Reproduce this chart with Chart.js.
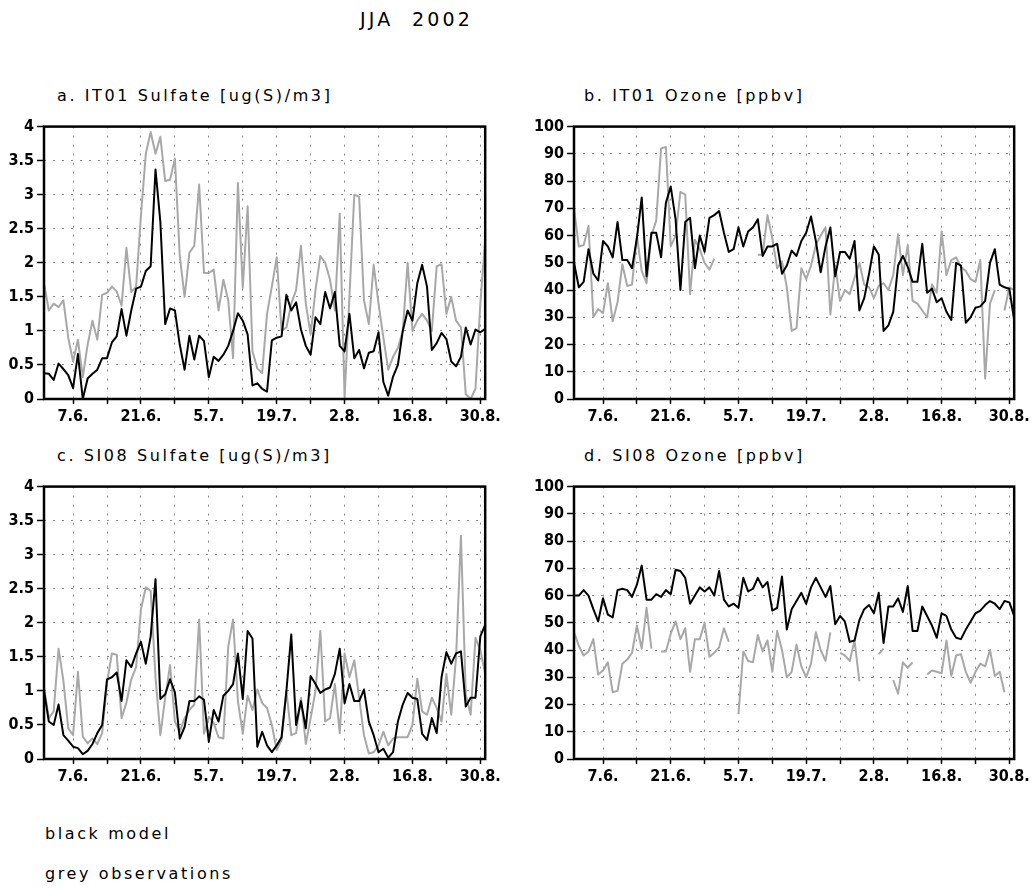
<!DOCTYPE html>
<html>
<head>
<meta charset="utf-8">
<title>JJA 2002</title>
<script src="https://cdn.jsdelivr.net/npm/chart.js@4.4.1/dist/chart.umd.min.js"></script>
<style>
  body { margin: 0; background: #fff; width: 1034px; height: 889px; position: relative; overflow: hidden; }
  canvas { position: absolute; }
  .txt {
    position: absolute; white-space: nowrap; line-height: 1; color: #000;
    font-family: "DejaVu Sans", sans-serif; font-size: 16px; letter-spacing: 2.6px;
  }
</style>
</head>
<body>
<div class="txt" style="left:314px;top:10px;width:205px;text-align:center;font-size:19px;letter-spacing:3.2px">JJA&nbsp;&nbsp;2002</div>

<div class="txt" style="left:57px;top:88px">a. IT01 Sulfate [ug(S)/m3]</div>
<div class="txt" style="left:584px;top:88px">b. IT01 Ozone [ppbv]</div>
<div class="txt" style="left:57px;top:448px">c. SI08 Sulfate [ug(S)/m3]</div>
<div class="txt" style="left:584px;top:448px">d. SI08 Ozone [ppbv]</div>

<canvas id="panelA" width="504" height="315" style="left:0;top:114px"></canvas>
<canvas id="panelB" width="503" height="315" style="left:530px;top:114px"></canvas>
<canvas id="panelC" width="504" height="315" style="left:0;top:474px"></canvas>
<canvas id="panelD" width="503" height="315" style="left:530px;top:474px"></canvas>

<div class="txt" style="left:45px;top:826px">black model</div>
<div class="txt" style="left:45px;top:866px">grey observations</div>

<script>
// daily values, index 0 = 1 June, index 91 = 31 August 2002
const tickDays = [6, 20, 34, 48, 62, 76, 90];
const tickLabels = ["7.6.", "21.6.", "5.7.", "19.7.", "2.8.", "16.8.", "30.8."];

// IT01 sulfate [ug(S)/m3]
const it01SulfModel = [
  0.38, 0.37, 0.28, 0.52, 0.44, 0.35, 0.16, 0.66, 0.0, 0.3,
  0.37, 0.43, 0.6, 0.6, 0.83, 0.92, 1.32, 0.93, 1.3, 1.62,
  1.65, 1.88, 1.95, 3.37, 2.6, 1.1, 1.33, 1.3, 0.8, 0.43,
  0.93, 0.58, 0.93, 0.85, 0.32, 0.62, 0.56, 0.65, 0.78, 1.0,
  1.26, 1.15, 0.95, 0.2, 0.23, 0.15, 0.11, 0.86, 0.9, 0.92,
  1.53, 1.3, 1.42, 1.02, 0.78, 0.65, 1.2, 1.1, 1.57, 1.33,
  1.57, 0.78, 0.7, 1.25, 0.6, 0.72, 0.45, 0.68, 0.7, 0.98,
  0.25, 0.05, 0.33, 0.5, 1.0, 1.3, 1.15, 1.7, 1.97, 1.65,
  0.72, 0.82, 0.97, 0.88, 0.55, 0.48, 0.62, 1.05, 0.8, 1.02,
  0.98, 1.03
];
const it01SulfObs = [
  1.7, 1.3, 1.4, 1.35, 1.45, 0.9, 0.55, 0.87, 0.32, 0.8,
  1.15, 0.87, 1.53, 1.56, 1.65, 1.58, 1.37, 2.22, 1.57, 1.65,
  2.7, 3.6, 3.92, 3.6, 3.85, 3.2, 3.22, 3.53, 2.1, 1.5,
  2.15, 2.25, 3.15, 1.85, 1.85, 1.9, 1.3, 1.75, 1.45, 0.6,
  3.17, 1.63, 2.83, 0.7, 0.45, 0.38, 1.25, 1.65, 2.08, 1.0,
  1.05, 1.4, 1.6, 2.25, 1.4, 0.95, 1.6, 2.1, 2.0, 1.75,
  1.3, 2.72, 0.02, 1.5, 3.0, 2.97, 1.45, 1.1, 1.97, 1.4,
  0.9, 0.43, 0.62, 0.75, 1.0, 2.0, 1.0, 1.15, 1.25, 1.15,
  1.0, 1.95, 1.98, 1.25, 1.5, 1.15, 1.05, 0.07, 0.0, 0.15,
  1.4, 2.35
];

// IT01 ozone [ppbv]
const it01O3Model = [
  50, 41, 43, 55, 46, 43.5, 58, 56, 52, 65,
  51, 51, 48, 59, 74, 45, 61, 61, 52, 72,
  78, 66, 40, 65, 66.5, 48, 60, 54, 66.5, 67.5,
  69, 61, 54, 55, 63, 56, 61.5, 63, 66, 52.5,
  56, 56, 57, 46, 49, 54.5, 52.5, 58, 61, 67,
  58, 46.5, 56, 63, 45, 54, 54, 51.5, 58, 32.5,
  37, 46, 56, 53, 25, 27, 32, 49, 52.5, 48.5,
  43, 43, 57, 39, 40.5, 35.5, 37, 32, 29, 50,
  49, 28, 30, 33.5, 34, 36, 50, 55, 42, 41,
  40.5, 29
];
const it01O3Obs = [
  70, 56, 56.5, 63.5, 30, 33, 31.5, 42.5, 28.5, 35.5,
  49.5, 41.5, 42, 60, 47, 42.5, 60, 65.5, 92, 92.5,
  56, 60, 76, 75, 38.5, 58.5, 55, 50, 47.5, 51.5,
  null, null, null, null, null, null, null, null, 53, 53,
  67.5, 59, 48, 50.5, 41, 25, 26, 48, 44, 49,
  56.5, 60, 63, 31, 49, 36, 40, 38.5, 44.5, 50,
  42, 41, 37, 41.5, 42.5, 40, 45.5, 60.5, 45.5, 56.5,
  36, 35, 32.5, 30, 42, 39, 61.5, 45.5, 51, 52,
  48.5, 47, 44, 43, 51, 7.5, 35, 40, null, 32.5,
  41, 40
];

// SI08 sulfate [ug(S)/m3]
const si08SulfModel = [
  1.0, 0.55, 0.5, 0.8, 0.35, 0.27, 0.18, 0.16, 0.07, 0.12,
  0.22, 0.38, 0.5, 1.17, 1.2, 1.27, 0.85, 1.45, 1.35, 1.55,
  1.72, 1.4, 1.8, 2.64, 0.88, 0.95, 1.17, 0.98, 0.3, 0.47,
  0.85, 0.85, 0.92, 0.87, 0.25, 0.72, 0.55, 0.93, 1.0, 1.1,
  1.55, 0.88, 1.88, 1.77, 0.18, 0.4, 0.2, 0.1, 0.2, 0.32,
  1.0, 1.83, 0.5, 0.85, 0.45, 1.22, 1.1, 0.97, 1.02, 1.05,
  1.25, 1.62, 0.82, 1.1, 0.85, 0.85, 1.02, 0.55, 0.35, 0.1,
  0.15, 0.02, 0.1, 0.55, 0.8, 0.97, 0.9, 0.88, 0.37, 0.28,
  0.6, 0.38, 1.2, 1.57, 1.4, 1.55, 1.58, 0.77, 0.9, 0.9,
  1.8, 1.97
];
const si08SulfObs = [
  1.05, 0.6, 0.7, 1.62, 1.15, 0.45, 0.35, 1.28, 0.33, 0.23,
  0.3, 0.22, 0.38, 1.12, 1.55, 1.53, 0.6, 0.83, 1.17, 1.35,
  2.2, 2.52, 2.47, 1.2, 0.35, 0.9, 1.38, 0.55, 0.4, 0.6,
  0.72, 0.8, 2.05, 0.37, 0.62, 0.53, 0.32, 0.3, 1.65, 2.05,
  0.85, 0.37, 0.93, 0.72, 1.02, 0.82, 0.75, 0.5, 0.13, 0.28,
  1.0, 0.35, 0.38, 0.9, 0.22, 0.6, 1.0, 1.88, 0.55, 0.6,
  1.1, 0.38, 1.55, 1.2, 1.45, 0.9, 0.35, 0.08, 0.1, 0.2,
  0.4, 0.2, 0.3, 0.32, 0.32, 0.32, 0.5, 1.18, 0.7, 0.65,
  0.9, 0.75, 0.55, 1.25, 0.65, 1.5, 3.28, 0.95, 0.65, 1.78,
  1.6, 1.25
];

// SI08 ozone [ppbv]
const si08O3Model = [
  60, 60, 62, 60, 55, 50.5, 59, 53, 52, 62,
  62.5, 62, 59.5, 64, 71, 58.5, 58.5, 60.5, 59.5, 62,
  60.5, 69.5, 69, 66.5, 57, 60, 63, 61.5, 63, 60,
  69, 58.5, 56, 57, 55.5, 66.5, 61.5, 62.5, 66.5, 63,
  65, 54.5, 55.5, 67, 47.5, 55, 58, 61, 57, 63,
  66.5, 63, 59.5, 63.5, 49.5, 52.5, 50.5, 43, 43.5, 51,
  55, 56.5, 53.5, 61, 42.5, 56, 56, 59, 54, 63.5,
  47, 47, 56, 52.5, 49, 44.5, 53.5, 52.5, 47.5, 44.5,
  44, 47.5, 50.5, 53.5, 54.5, 56.5, 58, 57, 55, 58,
  57.5, 52.5
];
const si08O3Obs = [
  46.5, 41.5, 38, 39.5, 44, 31, 32.5, 35.5, 24.5, 25,
  35, 36.5, 39, 49, 40.5, 55.5, 40.5, null, 39.5, 39.5,
  46, 50.5, 44, 48, 32, 44, 44, 50, 37.5, 39,
  41, 48, 43, null, 16.5, 39.5, 36, 35.5, 45.5, 39.5,
  43.5, 32, 47, 40, 30, 32, 42, 34, 30, 35,
  46.5, 40, 36, 46.5, null, 39, 38, 36, 43.5, 28.5,
  null, null, null, 38.5, 40.5, null, 29, 24, 35.5, 33.5,
  35.5, null, null, 31, 32.5, 32, 31.5, 43.5, 30.5, 38,
  38.5, 32, 28, 32, 35, 34, 40, 30.5, 32, 24.5,
  null, null
];

const tickFont = { family: "'Liberation Sans Narrow', 'DejaVu Sans Condensed', 'Liberation Sans', sans-serif", size: 16, weight: "bold" };

// thick black box round the plot area
const frame = {
  id: "frame",
  afterDatasetsDraw(chart) {
    const { ctx, chartArea: a } = chart;
    ctx.save();
    ctx.strokeStyle = "#000";
    ctx.lineWidth = 2.5;
    ctx.strokeRect(a.left, a.top, a.right - a.left, a.bottom - a.top);
    ctx.restore();
  }
};

function toPoints(values) {
  return values.map((v, i) => ({ x: i, y: v }));
}

function makePanel(id, model, obs, yMax, yStep) {
  return new Chart(document.getElementById(id), {
    type: "line",
    data: {
      datasets: [
        // model first so it is drawn on top
        { label: "model", data: toPoints(model), borderColor: "#000", borderWidth: 2 },
        { label: "observations", data: toPoints(obs), borderColor: "#a8a8a8", borderWidth: 2 }
      ]
    },
    options: {
      responsive: false,
      animation: false,
      events: [],
      layout: { padding: { top: 10, right: 16, left: 0, bottom: 0 } },
      elements: {
        point: { radius: 0 },
        line: { tension: 0, borderJoinStyle: "round" }
      },
      spanGaps: false,
      plugins: { legend: { display: false }, tooltip: { enabled: false } },
      scales: {
        x: {
          type: "linear",
          min: 0,
          max: 91,
          afterBuildTicks(scale) {
            // a dotted line every week, a label every second week
            const t = [];
            for (let d = 6; d <= 90; d += 7) t.push({ value: d });
            scale.ticks = t;
          },
          afterFit(scale) { scale.height = 30; },
          ticks: {
            autoSkip: false,
            maxRotation: 0,
            padding: 3,
            color: "#000",
            font: tickFont,
            callback: (v) => {
              const k = tickDays.indexOf(v);
              return k >= 0 ? tickLabels[k] : "";
            }
          },
          grid: { color: "#8a8a8a", lineWidth: 1, tickColor: "#000", tickWidth: 1.5, tickLength: 5 },
          border: { display: false, dash: [2, 7] }
        },
        y: {
          min: 0,
          max: yMax,
          afterFit(scale) { scale.width = 44; },
          ticks: {
            stepSize: yStep,
            padding: 3,
            color: "#000",
            font: tickFont,
            // 1 rather than 1.0
            callback: (v) => String(+v.toFixed(1))
          },
          grid: { color: "#8a8a8a", lineWidth: 1, tickColor: "#000", tickWidth: 1.5, tickLength: 7 },
          border: { display: false, dash: [2, 7] }
        }
      }
    },
    plugins: [frame]
  });
}

makePanel("panelA", it01SulfModel, it01SulfObs, 4, 0.5);
makePanel("panelB", it01O3Model, it01O3Obs, 100, 10);
makePanel("panelC", si08SulfModel, si08SulfObs, 4, 0.5);
makePanel("panelD", si08O3Model, si08O3Obs, 100, 10);
</script>
</body>
</html>
